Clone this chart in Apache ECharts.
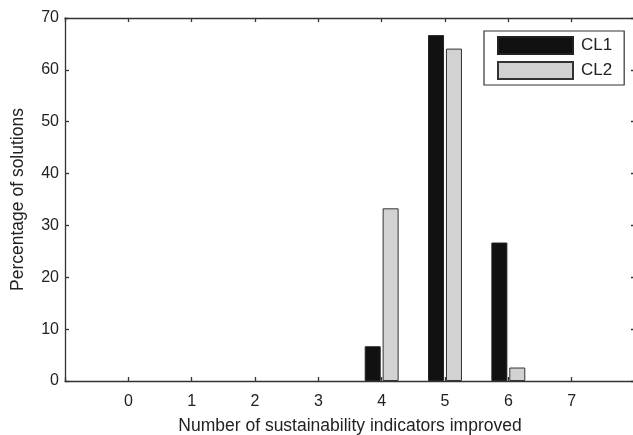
<!DOCTYPE html>
<html><head><meta charset="utf-8">
<script src="https://cdn.jsdelivr.net/npm/echarts@6/dist/echarts.min.js"></script>
<style>html,body{margin:0;padding:0;background:#fff}#c{width:633px;height:435px}</style>
</head><body><div id="c"></div>
<script>
const xValues = [4, 5, 6];
const cl1 = [6.7, 66.7, 26.7];
const cl2 = [33.3, 64.1, 2.6];
const seriesNames = ['CL1', 'CL2'];
const xTicks = [0, 1, 2, 3, 4, 5, 6, 7];
const xTitle = 'Number of sustainability indicators improved';
const yTitle = 'Percentage of solutions';

const chart = echarts.init(document.getElementById('c'));
const font = 'Liberation Sans, Arial, sans-serif';
const axisLine = {show: true, onZero: false, lineStyle: {color: '#333', width: 1.3}};
const tick = {show: true, inside: true, length: 4, lineStyle: {color: '#333', width: 1.3}};
chart.setOption({
  animation: false,
  grid: {left: 65, top: 18, width: 570, height: 363, outerBoundsMode: 'none', containLabel: false},
  legend: {
    orient: 'vertical', left: 484, top: 31,
    data: seriesNames,
    itemWidth: 75, itemHeight: 17, itemGap: 6,
    padding: [5, 12, 5, 13],
    borderColor: '#333', borderWidth: 1.2, backgroundColor: '#fff',
    textStyle: {fontFamily: font, fontSize: 17, color: '#222', padding: [0, 0, 0, 3]},
    icon: 'rect'
  },
  xAxis: [{
    type: 'value', min: -1, max: 8, interval: 1,
    axisLine: axisLine, axisTick: tick, splitLine: {show: false},
    axisLabel: {
      fontFamily: font, fontSize: 16, color: '#222', margin: 13,
      formatter: v => xTicks.includes(v) ? String(v) : ''
    },
    name: xTitle, nameLocation: 'middle', nameGap: 36,
    nameTextStyle: {fontFamily: font, fontSize: 17.5, color: '#222'}
  }, {
    type: 'value', min: -1, max: 8, interval: 1, position: 'top',
    axisLine: axisLine, axisTick: tick, axisLabel: {show: false}, splitLine: {show: false}
  }],
  yAxis: [{
    type: 'value', min: 0, max: 70, interval: 10,
    axisLine: axisLine, axisTick: tick, splitLine: {show: false},
    axisLabel: {fontFamily: font, fontSize: 16, color: '#222', margin: 6},
    name: yTitle, nameLocation: 'middle', nameGap: 37.5,
    nameTextStyle: {fontFamily: font, fontSize: 17.5, color: '#222'}
  }, {
    type: 'value', min: 0, max: 70, interval: 10, position: 'right',
    axisLine: axisLine, axisTick: tick, axisLabel: {show: false}, splitLine: {show: false}
  }],
  series: [{
    name: seriesNames[0], type: 'bar',
    data: xValues.map((x, i) => [x, cl1[i]]),
    barWidth: 16, barGap: '12%',
    itemStyle: {color: '#111', borderColor: '#222', borderWidth: 1}
  }, {
    name: seriesNames[1], type: 'bar',
    data: xValues.map((x, i) => [x, cl2[i]]),
    barWidth: 16, barGap: '12%',
    itemStyle: {color: '#d2d2d2', borderColor: '#333', borderWidth: 1}
  }]
});
</script></body></html>
